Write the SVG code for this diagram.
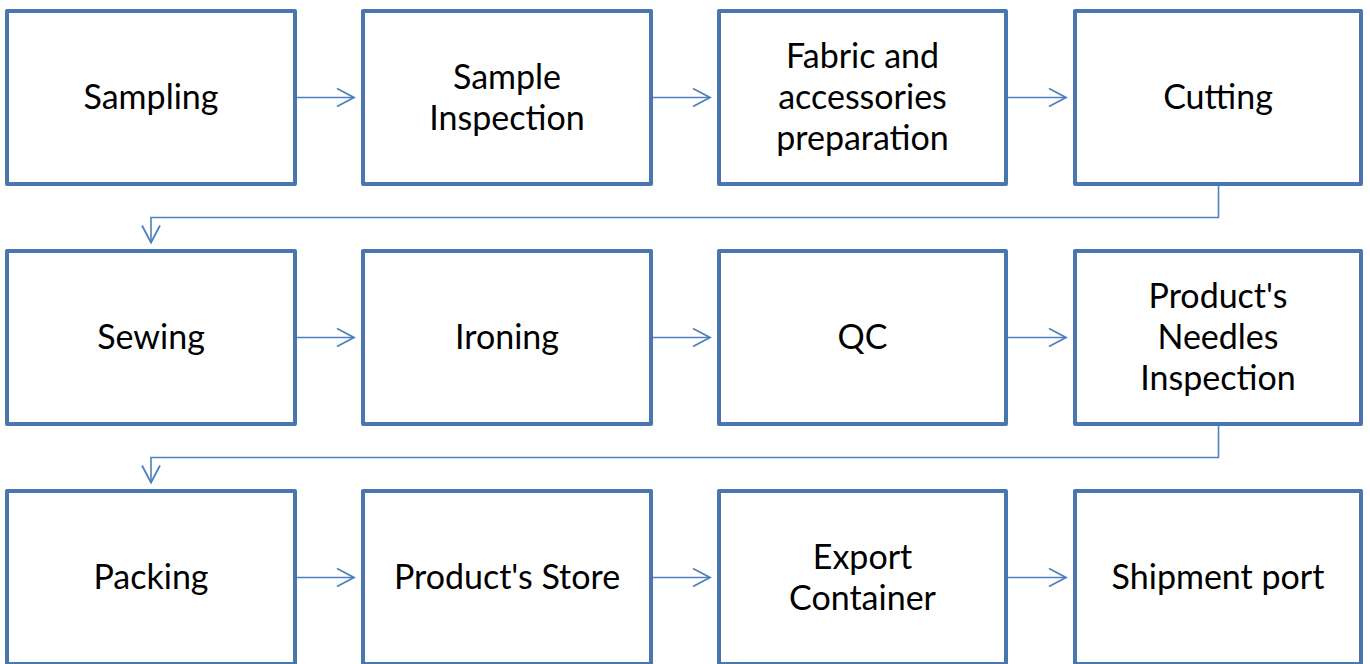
<svg xmlns="http://www.w3.org/2000/svg" width="1370" height="664" viewBox="0 0 1370 664">
  <defs>
    <style>
      .box { fill: #ffffff; stroke: #4a76b0; stroke-width: 4; stroke-linejoin: round; }
      .lbl { font-family: Lato, "Open Sans", "Liberation Sans", sans-serif; font-size: 34px; fill: #000000; text-anchor: middle; }
      .conn { fill: none; stroke: #4f81bd; stroke-width: 1.6; }
    </style>
    <marker id="arrow" markerUnits="userSpaceOnUse" markerWidth="24" markerHeight="24" viewBox="-20 -12 24 24" refX="0" refY="0" orient="auto">
      <path d="M -17 -9 L 0 0 L -17 9" fill="none" stroke="#4f81bd" stroke-width="1.8"/>
    </marker>
  </defs>
  <rect width="1370" height="664" fill="#ffffff"/>

  <!-- Row 1 -->
  <g id="sampling"><rect class="box" x="7" y="11" width="288" height="173"/><text class="lbl" x="151" y="109">Sampling</text></g>
  <g id="sample-inspection"><rect class="box" x="363" y="11" width="288" height="173"/><text class="lbl" x="507" y="88.5">Sample</text><text class="lbl" x="507" y="129.5">Inspection</text></g>
  <g id="fabric-preparation"><rect class="box" x="719" y="11" width="287" height="173"/><text class="lbl" x="862.5" y="67.5">Fabric and</text><text class="lbl" x="862.5" y="108.5">accessories</text><text class="lbl" x="862.5" y="149.5">preparation</text></g>
  <g id="cutting"><rect class="box" x="1075" y="11" width="286" height="173"/><text class="lbl" x="1218" y="109">Cutting</text></g>

  <!-- Row 2 -->
  <g id="sewing"><rect class="box" x="7" y="251" width="288" height="173"/><text class="lbl" x="151" y="349">Sewing</text></g>
  <g id="ironing"><rect class="box" x="363" y="251" width="288" height="173"/><text class="lbl" x="507" y="349">Ironing</text></g>
  <g id="qc"><rect class="box" x="719" y="251" width="287" height="173"/><text class="lbl" x="862.5" y="349">QC</text></g>
  <g id="needles-inspection"><rect class="box" x="1075" y="251" width="286" height="173"/><text class="lbl" x="1218" y="307.5">Product's</text><text class="lbl" x="1218" y="348.5">Needles</text><text class="lbl" x="1218" y="389.5">Inspection</text></g>

  <!-- Row 3 -->
  <g id="packing"><rect class="box" x="7" y="491" width="288" height="173"/><text class="lbl" x="151" y="589">Packing</text></g>
  <g id="product-store"><rect class="box" x="363" y="491" width="288" height="173"/><text class="lbl" x="507" y="589">Product's Store</text></g>
  <g id="export-container"><rect class="box" x="719" y="491" width="287" height="173"/><text class="lbl" x="862.5" y="568.5">Export</text><text class="lbl" x="862.5" y="609.5">Container</text></g>
  <g id="shipment-port"><rect class="box" x="1075" y="491" width="286" height="173"/><text class="lbl" x="1218" y="589">Shipment port</text></g>

  <!-- Connectors -->
  <g id="connectors">
    <line class="conn" x1="297" y1="97.5" x2="354" y2="97.5" marker-end="url(#arrow)"/>
    <line class="conn" x1="653" y1="97.5" x2="710" y2="97.5" marker-end="url(#arrow)"/>
    <line class="conn" x1="1008" y1="97.5" x2="1066" y2="97.5" marker-end="url(#arrow)"/>
    <polyline class="conn" points="1218.5,186 1218.5,217.5 151,217.5 151,242.5" marker-end="url(#arrow)"/>
    <line class="conn" x1="297" y1="337.5" x2="354" y2="337.5" marker-end="url(#arrow)"/>
    <line class="conn" x1="653" y1="337.5" x2="710" y2="337.5" marker-end="url(#arrow)"/>
    <line class="conn" x1="1008" y1="337.5" x2="1066" y2="337.5" marker-end="url(#arrow)"/>
    <polyline class="conn" points="1218.5,426 1218.5,457.5 151,457.5 151,482.5" marker-end="url(#arrow)"/>
    <line class="conn" x1="297" y1="577.5" x2="354" y2="577.5" marker-end="url(#arrow)"/>
    <line class="conn" x1="653" y1="577.5" x2="710" y2="577.5" marker-end="url(#arrow)"/>
    <line class="conn" x1="1008" y1="577.5" x2="1066" y2="577.5" marker-end="url(#arrow)"/>
  </g>
</svg>
